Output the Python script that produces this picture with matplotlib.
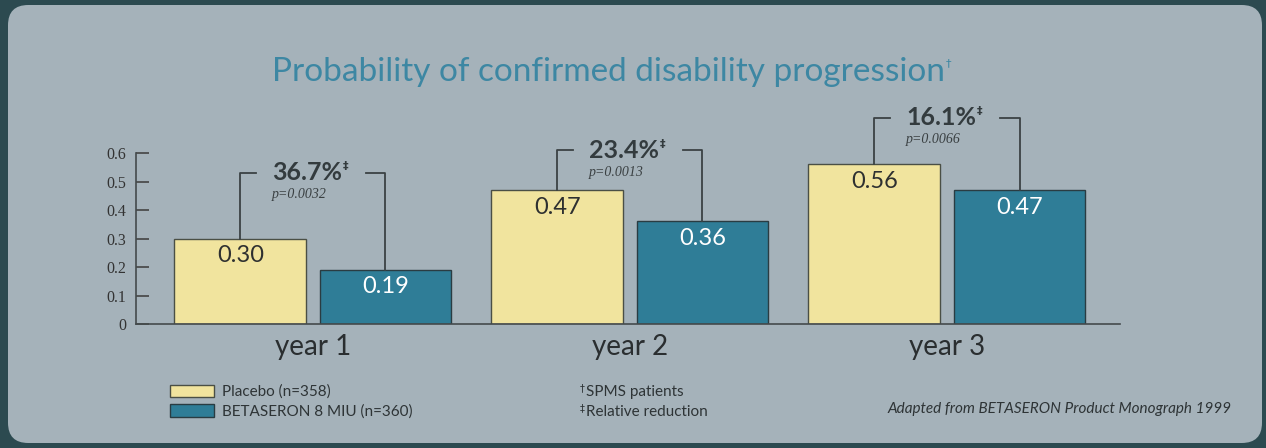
import matplotlib
matplotlib.use("Agg")
import matplotlib.pyplot as plt
from matplotlib.patches import FancyBboxPatch, Patch
import numpy as np

years = ["year 1", "year 2", "year 3"]
placebo = [0.30, 0.47, 0.56]
betaseron = [0.19, 0.36, 0.47]
reduction = ["36.7%", "23.4%", "16.1%"]
pvalues = ["p=0.0032", "p=0.0013", "p=0.0066"]
bracket_top = [0.53, 0.61, 0.723]
yticks = [0, 0.1, 0.2, 0.3, 0.4, 0.5, 0.6]

NARROW = ["Lato", "DejaVu Sans"]
SERIF = ["Liberation Serif", "DejaVu Serif"]
YELLOW = "#f1e49e"
TEAL = "#2f7d97"
DARK = "#333b3e"
TXT = "#2e3436"

W, H = 1266, 448
fig = plt.figure(figsize=(W / 100, H / 100), dpi=100)
fig.patch.set_facecolor("#2c4a50")

# rounded light panel
panel = FancyBboxPatch((8 / W, 5 / H), 1254 / W, 438 / H,
                       boxstyle="round,pad=0,rounding_size=0.016",
                       transform=fig.transFigure, facecolor="#a5b2ba",
                       edgecolor="none", mutation_aspect=W / H, zorder=-5)
fig.patches.append(panel)

ax = fig.add_axes([136 / W, (H - 324) / H, 984 / W, 171 / H])
ax.set_facecolor("none")

x = np.arange(len(years))
bw = 0.416
off = 0.229
ax.bar(x - off, placebo, bw, color=YELLOW, edgecolor="#4a4f45", linewidth=1)
ax.bar(x + off, betaseron, bw, color=TEAL, edgecolor="#2a3c42", linewidth=1)

for i in range(len(years)):
    ax.text(x[i] - off, placebo[i] - 0.06, f"{placebo[i]:.2f}", ha="center",
            va="center", fontsize=17, color="#2e3030", family=NARROW)
    ax.text(x[i] + off, betaseron[i] - 0.06, f"{betaseron[i]:.2f}", ha="center",
            va="center", fontsize=17, color="white", family=NARROW)

    # bracket
    top = bracket_top[i]
    xl = x[i] - off
    xr = x[i] + off
    ax.plot([xl, xl, xl + 0.05], [placebo[i], top, top], color="#3b4244",
            lw=1.3, clip_on=False)
    ax.plot([xr - 0.06, xr, xr], [top, top, betaseron[i]], color="#3b4244",
            lw=1.3, clip_on=False)
    t = ax.text(xl + 0.1, top, reduction[i], ha="left", va="center",
                fontsize=18, fontweight="bold", color=DARK, family=NARROW,
                clip_on=False)
    ax.annotate("\u2021", xy=(1, 1), xycoords=t, xytext=(0.5, 0),
                textcoords="offset points", ha="left", va="top", fontsize=8,
                color=DARK, fontweight="bold", annotation_clip=False)
    ax.text(xl + 0.1, top - 0.077, pvalues[i], ha="left", va="center",
            fontsize=10, style="italic", color="#3a4042", family=SERIF,
            clip_on=False)

ax.set_xlim(-0.558, 2.546)
ax.set_ylim(0, 0.6)
ax.set_yticks(yticks)
ax.set_yticklabels([("0" if v == 0 else f"{v:.1f}") for v in yticks],
                   family=SERIF, fontsize=11.5, color="#333333")
ax.tick_params(axis="y", direction="in", length=9, width=1.2, color="#444",
               pad=7)
ax.set_xticks(x)
ax.set_xticklabels(years, family=NARROW, fontsize=20, color="#2a2e30")
ax.tick_params(axis="x", length=0, pad=7)
for s in ["top", "right"]:
    ax.spines[s].set_visible(False)
for s in ["left", "bottom"]:
    ax.spines[s].set_color("#444a4c")
    ax.spines[s].set_linewidth(1.2)

# title
tt = fig.text(608 / W, 1 - 72 / H, "Probability of confirmed disability progression",
              ha="center", va="center", fontsize=24, color="#3d87a3",
              family=NARROW)
ax.annotate("\u2020", xy=(1, 1), xycoords=tt, xytext=(1, -1),
            textcoords="offset points", ha="left", va="top", fontsize=8,
            color="#3d87a3", annotation_clip=False)

# legend
handles = [Patch(facecolor=YELLOW, edgecolor="#4a4f45", label="Placebo (n=358)"),
           Patch(facecolor=TEAL, edgecolor="#2a3c42", label="BETASERON 8 MIU (n=360)")]
fig.legend(handles=handles, loc="upper left", bbox_to_anchor=(159 / W, 1 - 374 / H),
           frameon=False, handlelength=2.9, handleheight=0.85, labelspacing=0.35,
           handletextpad=0.5, prop={"family": NARROW, "size": 11},
           labelcolor=TXT, borderpad=0.2)

# footnotes with superscript marks
for mark, label, ypix in [("\u2020", "SPMS patients", 392),
                          ("\u2021", "Relative reduction", 412)]:
    m = fig.text(580 / W, 1 - (ypix - 4) / H, mark, ha="left", va="center",
                 fontsize=7, color=TXT)
    ax.annotate(label, xy=(1, 0.5), xycoords=m, xytext=(0.5, -3),
                textcoords="offset points", ha="left", va="center",
                fontsize=11, family=NARROW, color=TXT, annotation_clip=False)

fig.text(1232 / W, 1 - 409 / H, "Adapted from BETASERON Product Monograph 1999",
         ha="right", va="center", fontsize=11, style="italic",
         family=NARROW, color=TXT)

fig.savefig("out.png", dpi=100, facecolor=fig.get_facecolor())
